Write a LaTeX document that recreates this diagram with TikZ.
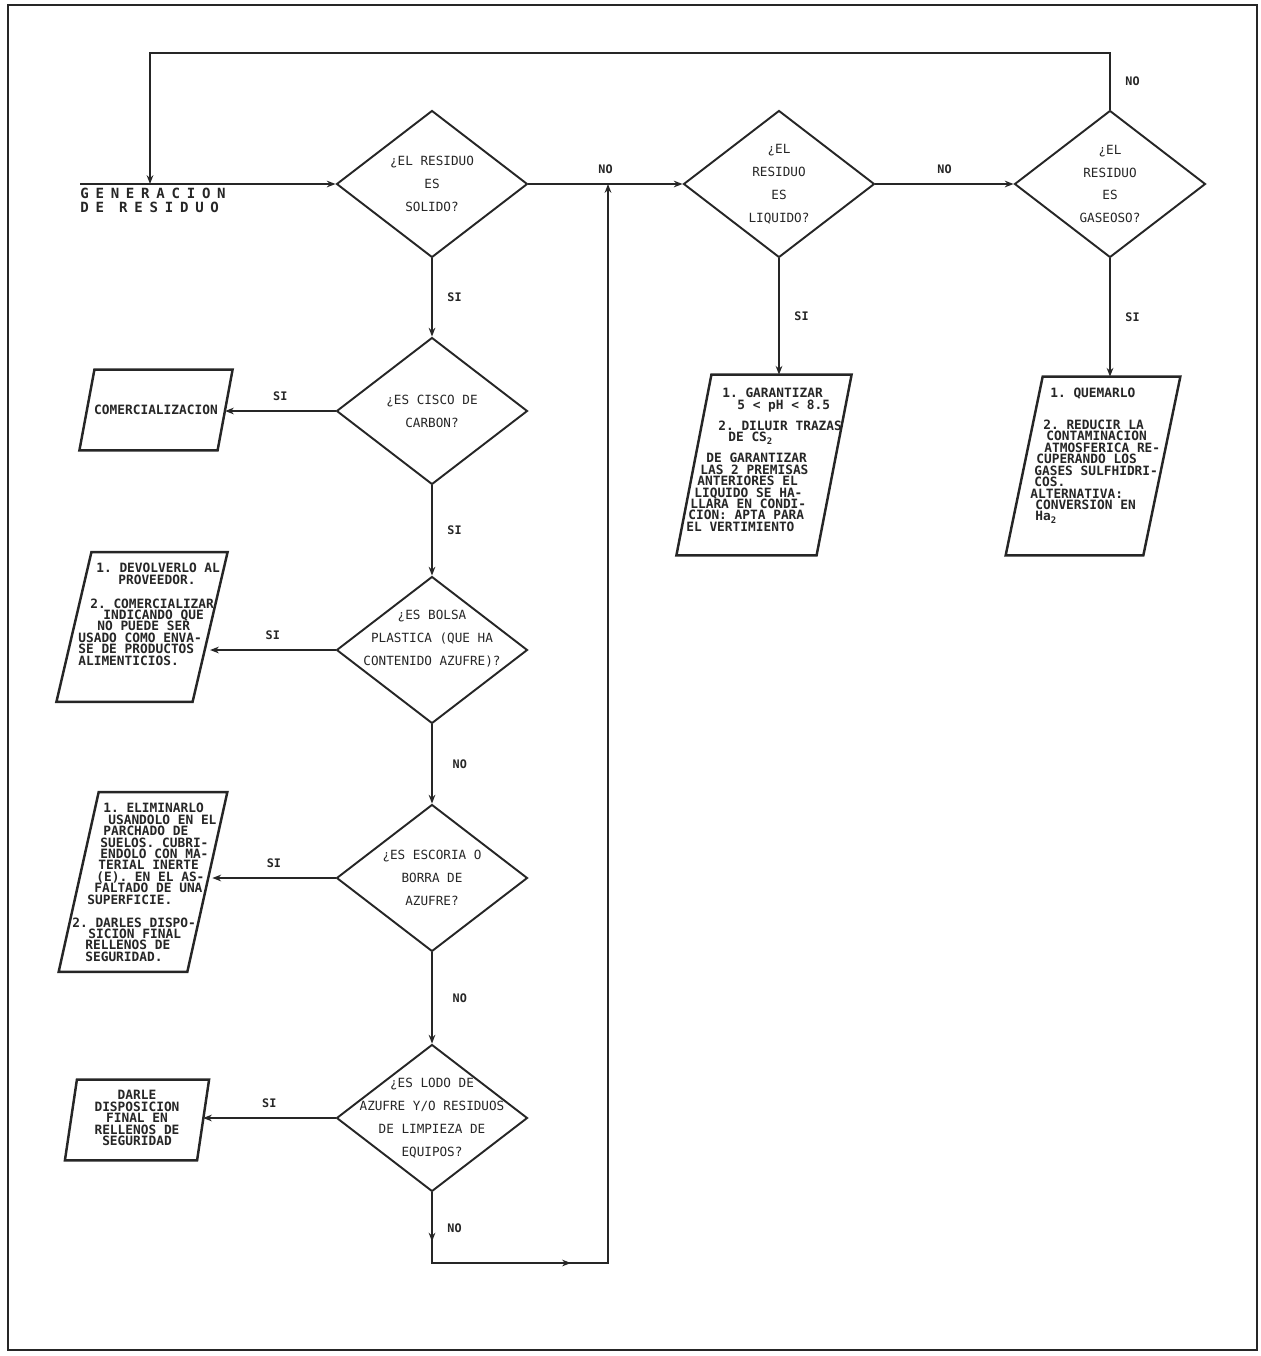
\documentclass[tikz,border=0pt]{standalone}
\usepackage{fontspec}
\usetikzlibrary{shapes.geometric,arrows.meta,decorations.markings}
\newfontfamily\dotfont{DejaVu Sans Mono}
\newfontfamily\widefont[LetterSpace=48]{DejaVu Sans Mono}
\newlength\pxu \setlength\pxu{0.02cm}
\newcommand\indl[2]{\hspace*{#1\pxu}#2}
\definecolor{ink}{HTML}{262626}
\frenchspacing
\begin{document}
\begin{tikzpicture}[x=0.02cm,y=-0.02cm,color=ink,>={Stealth[length=5pt,width=3.8pt]},
  dec/.style={draw,diamond,inner sep=0pt,minimum width=3.82cm,minimum height=2.94cm,line width=1.1pt},
  dtxt/.style={font=\dotfont\fontsize{7.2}{13}\selectfont,align=center,inner sep=0pt},
  slot/.style={inner sep=0pt},
  btxt/.style={font=\dotfont\bfseries\fontsize{7.3}{6.5}\selectfont,align=left,inner sep=0pt,
    execute at begin node={\lineskiplimit=-10pt\relax}},
  gtxt/.style={font=\widefont\bfseries\fontsize{8}{7.6}\selectfont,align=left,inner sep=0pt,
    execute at begin node={\lineskiplimit=-10pt\relax}},
  yn/.style={font=\dotfont\bfseries\fontsize{6.7}{8}\selectfont},
  flow/.style={line width=0.9pt},
  boxline/.style={line width=1.4pt}]
\useasboundingbox (0,0) rectangle (1261,1356);
\draw[line width=1.3pt] (8,5) rectangle (1257,1350);

\node[dec,label={[dtxt,name=d1t]center:{¿EL RESIDUO\\ES\\SOLIDO?}}] (d1) at (432,184) {};
\node[dec,label={[dtxt,name=d2t]center:{¿EL\\RESIDUO\\ES\\LIQUIDO?}}] (d2) at (779,184) {};
\node[dec,label={[dtxt,name=d4t]center:{¿EL\\RESIDUO\\ES\\GASEOSO?}}] (d4) at (1110,184) {};
\node[dec,label={[dtxt,name=d3t]center:{¿ES CISCO DE\\CARBON?}}] (d3) at (432,411) {};
\node[dec,label={[dtxt,name=d5t,yshift=6.5pt]center:{¿ES BOLSA\\PLASTICA (QUE HA\\CONTENIDO AZUFRE)?}}] (d5) at (432,650) {};
\node[dec,label={[dtxt,name=d6t]center:{¿ES ESCORIA O\\BORRA DE\\AZUFRE?}}] (d6) at (432,878) {};
\node[dec,label={[dtxt,name=d7t]center:{¿ES LODO DE\\AZUFRE Y/O RESIDUOS\\DE LIMPIEZA DE\\EQUIPOS?}}] (d7) at (432,1118) {};

\node[slot,minimum width=2.79cm,minimum height=3.6cm] (p2) at (764,465) {};
\node[slot,minimum width=2.74cm,minimum height=3.56cm] (p4) at (1093,466) {};
\node[slot,minimum width=2.75cm,minimum height=1.6cm] (p3) at (156,410) {};
\node[slot,minimum width=2.71cm,minimum height=2.98cm] (p5) at (142,627) {};
\node[slot,minimum width=2.56cm,minimum height=3.58cm] (p6) at (143,882) {};
\node[slot,minimum width=2.63cm,minimum height=1.6cm] (p7) at (137,1120) {};
\foreach \b/\s in {p2/.35,p4/.37,p3/.15,p5/.35,p6/.40,p7/.12}
  \draw[boxline] ([xshift=\s cm]\b.north west) -- ([xshift=\s cm]\b.north east)
    -- ([xshift=-\s cm]\b.south east) -- ([xshift=-\s cm]\b.south west) -- cycle;

\node[gtxt,anchor=north west] (gen) at (80,188) {GENERACION\\DE RESIDUO};
\node[btxt] (p3t) at (156,410) {COMERCIALIZACION};
\node[btxt,anchor=north west] (p2t) at (686,388) {\indl{36}{1. GARANTIZAR}\\
  \indl{51}{5 < pH < 8.5}\\[5.5pt]
  \indl{32}{2. DILUIR TRAZAS}\\
  \indl{42}{DE CS\textsubscript{2}}\\[5.5pt]
  \indl{20}{DE GARANTIZAR}\\
  \indl{14}{LAS 2 PREMISAS}\\
  \indl{11}{ANTERIORES EL}\\
  \indl{8}{LIQUIDO SE HA-}\\
  \indl{4}{LLARA EN CONDI-}\\
  \indl{2}{CION: APTA PARA}\\
  \indl{0}{EL VERTIMIENTO}};
\node[btxt,anchor=north west] (p4t) at (1030,388) {\indl{20}{1. QUEMARLO}\\[11.5pt]
  \indl{13}{2. REDUCIR LA}\\
  \indl{16}{CONTAMINACION}\\
  \indl{14}{ATMOSFERICA RE-}\\
  \indl{6}{CUPERANDO LOS}\\
  \indl{4}{GASES SULFHIDRI-}\\
  \indl{4}{COS.}\\
  \indl{0}{ALTERNATIVA:}\\
  \indl{5}{CONVERSION EN}\\
  \indl{5}{Ha\textsubscript{2}}};
\node[btxt,anchor=north west] (p5t) at (78,563) {\indl{18}{1. DEVOLVERLO AL}\\
  \indl{40}{PROVEEDOR.}\\[7pt]
  \indl{12}{2. COMERCIALIZAR}\\
  \indl{25}{INDICANDO QUE}\\
  \indl{19}{NO PUEDE SER}\\
  \indl{0}{USADO COMO ENVA-}\\
  \indl{0}{SE DE PRODUCTOS}\\
  \indl{0}{ALIMENTICIOS.}};
\node[btxt,anchor=north west] (p6t) at (72,803) {\indl{31}{1. ELIMINARLO}\\
  \indl{36}{USANDOLO EN EL}\\
  \indl{31}{PARCHADO DE}\\
  \indl{28}{SUELOS. CUBRI-}\\
  \indl{28}{ENDOLO CON MA-}\\
  \indl{26}{TERIAL INERTE}\\
  \indl{24}{(E). EN EL AS-}\\
  \indl{22}{FALTADO DE UNA}\\
  \indl{15}{SUPERFICIE.}\\[6.5pt]
  \indl{0}{2. DARLES DISPO-}\\
  \indl{16}{SICION FINAL}\\
  \indl{13}{RELLENOS DE}\\
  \indl{13}{SEGURIDAD.}};
\node[btxt,align=center] (p7t) at (137,1118) {DARLE\\DISPOSICION\\FINAL EN\\RELLENOS DE\\SEGURIDAD};

\coordinate (gin) at (80,184);
\coordinate (lp) at (150,53);
\coordinate (join) at (150,184);
\coordinate (ret1) at (432,1263);
\coordinate (ret2) at (608,1263);
\coordinate (ret3) at (608,184);

\draw[flow,->] (gin) -- (d1.west);
\draw[flow,->] (d4.north) |- node[yn,pos=0.25,right=5pt] {NO} (lp) -- (join);
\draw[flow,->] (d1.east) -- node[yn,above=2pt] {NO} (d2.west);
\draw[flow,->] (d2.east) -- node[yn,above=2pt] {NO} (d4.west);
\draw[flow,->] (d2.south) -- node[yn,right=5pt] {SI} (d2.south |- p2.north);
\draw[flow,->] (d4.south) -- node[yn,right=5pt] {SI} (d4.south |- p4.north);
\draw[flow,->] (d1.south) -- node[yn,right=5pt] {SI} (d3.north);
\draw[flow,->] (d3.west) -- node[yn,above=2pt] {SI} (d3.west -| p3.east);
\draw[flow,->] (d3.south) -- node[yn,right=5pt] {SI} (d5.north);
\draw[flow,->] (d5.west) -- node[yn,above=2pt] {SI} (d5.west -| p5.east);
\draw[flow,->] (d5.south) -- node[yn,right=8pt] {NO} (d6.north);
\draw[flow,->] (d6.west) -- node[yn,above=2pt] {SI} ([xshift=0.1cm]d6.west -| p6.east);
\draw[flow,->] (d6.south) -- node[yn,right=8pt] {NO} (d7.north);
\draw[flow,->] (d7.west) -- node[yn,above=2pt] {SI} (d7.west -| p7.east);
\draw[flow,->,postaction={decorate},decoration={markings,
    mark=at position 0.037 with {\arrow{>}},mark=at position 0.158 with {\arrow{>}}}]
  (d7.south) -- node[yn,right=5pt] {NO} (ret1) -- (ret2) -- (ret3);
\end{tikzpicture}
\end{document}
